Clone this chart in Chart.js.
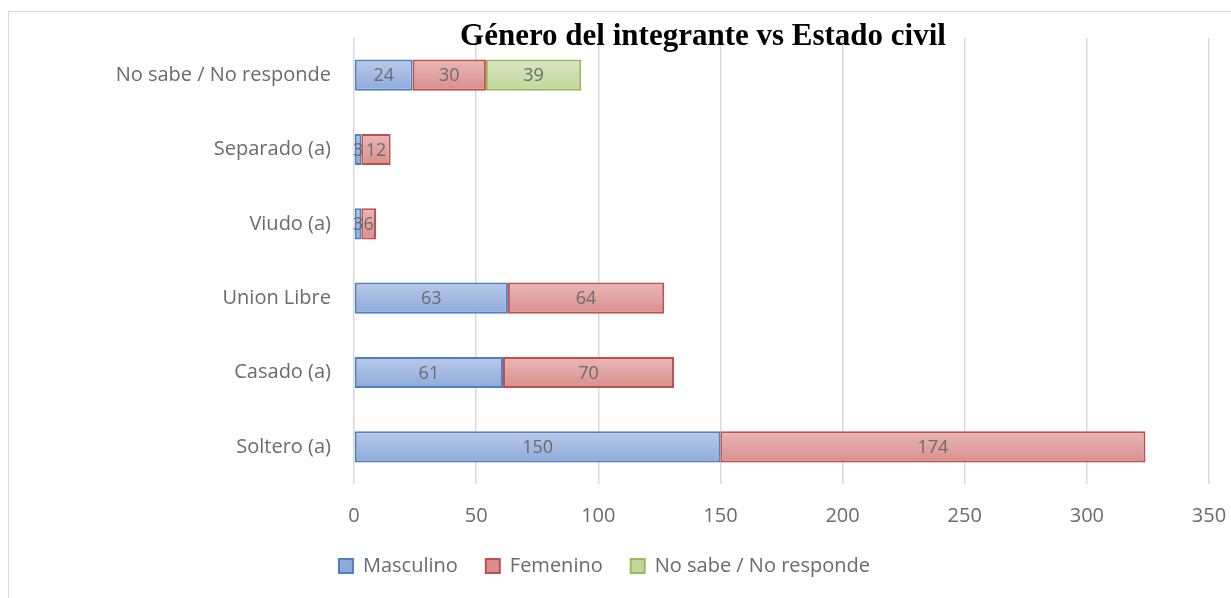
<!DOCTYPE html>
<html lang="es">
<head>
    <meta charset="UTF-8">
    <title>Género del integrante vs Estado civil</title>
    <script src="https://cdn.jsdelivr.net/npm/chart.js"></script>
    <style>
        html, body { margin: 0; padding: 0; background: #fff; overflow: hidden; }
        #frame { position: absolute; left: 8px; top: 11px; width: 1400px; height: 800px; border: 1px solid #d9d9d9; }
        #wrap { position: absolute; left: 0; top: 0; width: 1231px; height: 598px; }
    </style>
</head>
<body>
    <div id="frame"></div>
    <div id="wrap"><canvas id="chart"></canvas></div>

<script>
    // datos
    const categorias = ['No sabe / No responde', 'Separado (a)', 'Viudo (a)', 'Union Libre', 'Casado (a)', 'Soltero (a)'];
    const masculino = [24, 3, 3, 63, 61, 150];
    const femenino = [30, 12, 6, 64, 70, 174];
    const noSabe = [39, null, null, null, null, null];
    const ticksX = [0, 50, 100, 150, 200, 250, 300, 350];

    const titulo = 'Género del integrante vs Estado civil';
    const gris = '#6b6b6b';
    const fuente = '"Open Sans", Lato, sans-serif';

    // degradado vertical por barra
    function degradado(claro, oscuro) {
        return function (c) {
            const chart = c.chart;
            const y = chart.scales && chart.scales.y;
            if (!y) return oscuro;
            const mid = y.getPixelForValue(c.dataIndex);
            if (mid == null || isNaN(mid)) return oscuro;
            const g = chart.ctx.createLinearGradient(0, mid - 16, 0, mid + 16);
            g.addColorStop(0, claro);
            g.addColorStop(1, oscuro);
            return g;
        };
    }

    // etiquetas de valor dentro de las barras
    const etiquetas = {
        id: 'etiquetas',
        afterDatasetsDraw(chart) {
            const ctx = chart.ctx;
            ctx.save();
            ctx.font = '18px ' + fuente;
            ctx.fillStyle = gris;
            ctx.textAlign = 'center';
            ctx.textBaseline = 'middle';
            chart.data.datasets.forEach((ds, i) => {
                chart.getDatasetMeta(i).data.forEach((bar, j) => {
                    const v = ds.data[j];
                    if (v == null) return;
                    ctx.fillText(String(v), (bar.x + bar.base) / 2, bar.y + 1);
                });
            });
            ctx.restore();
        }
    };

    // titulo desplazado como en el original
    const tituloPlugin = {
        id: 'tituloPlugin',
        afterLayout(chart) {
            // subir la leyenda (el padding grande la empuja hacia abajo)
            if (chart.legend) {
                chart.legend.top -= 20;
                chart.legend.bottom -= 20;
            }
        },
        afterDraw(chart) {
            const ctx = chart.ctx;
            ctx.save();
            ctx.font = 'bold 31px "Liberation Serif", "Times New Roman", serif';
            ctx.fillStyle = '#000';
            ctx.textAlign = 'center';
            ctx.textBaseline = 'alphabetic';
            ctx.fillText(titulo, 703, 45);
            ctx.restore();
        }
    };

    const ctx = document.getElementById('chart').getContext('2d');
    new Chart(ctx, {
        type: 'bar',
        data: {
            labels: categorias,
            datasets: [
                {
                    label: 'Masculino',
                    data: masculino,
                    backgroundColor: degradado('#b9cae8', '#8eaadb'),
                    borderColor: '#4f81bd',
                    borderWidth: 2,
                    borderSkipped: false
                },
                {
                    label: 'Femenino',
                    data: femenino,
                    backgroundColor: degradado('#eab8b7', '#d88e8c'),
                    borderColor: '#c0504d',
                    borderWidth: 2,
                    borderSkipped: false
                },
                {
                    label: 'No sabe / No responde',
                    data: noSabe,
                    backgroundColor: degradado('#d9e6c2', '#c2d69b'),
                    borderColor: '#9bbb59',
                    borderWidth: 2,
                    borderSkipped: false
                }
            ]
        },
        options: {
            indexAxis: 'y',
            responsive: true,
            maintainAspectRatio: false,
            animation: false,
            categoryPercentage: 1,
            barPercentage: 0.42,
            layout: { padding: { top: 38, right: 22, left: 0, bottom: -8 } },
            scales: {
                x: {
                    stacked: true,
                    min: 0,
                    max: 350,
                    afterBuildTicks(scale) { scale.ticks = ticksX.map(v => ({ value: v })); },
                    grid: { color: '#d9d9d9', lineWidth: 1.5, drawTicks: false },
                    border: { display: false },
                    ticks: { color: gris, font: { family: fuente, size: 20 }, padding: 20 },
                    afterFit(scale) {
                        scale.height = 64;
                        scale.paddingRight = 0;
                        scale.paddingLeft = 0;
                    }
                },
                y: {
                    stacked: true,
                    grid: { display: false, drawTicks: false },
                    border: { display: false },
                    ticks: { color: gris, font: { family: fuente, size: 20 }, padding: 23 },
                    afterFit(scale) { scale.width = 354; }
                }
            },
            plugins: {
                legend: {
                    position: 'bottom',
                    labels: {
                        color: gris,
                        font: { family: fuente, size: 20 },
                        boxWidth: 14,
                        boxHeight: 14,
                        padding: 28,
                        useBorderRadius: false
                    }
                },
                title: { display: false },
                tooltip: { enabled: false }
            }
        },
        plugins: [etiquetas, tituloPlugin]
    });
</script>
</body>
</html>
